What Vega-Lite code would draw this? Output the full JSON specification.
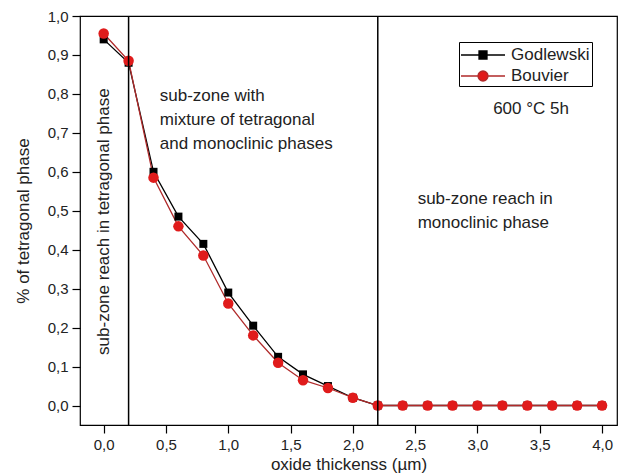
{
  "$schema": "https://vega.github.io/schema/vega-lite/v6.json",
  "autosize": "none",
  "width": 537,
  "height": 409,
  "padding": {"left": 80, "top": 16, "right": 1, "bottom": 51},
  "background": "white",
  "config": {
    "view": {"stroke": "black", "strokeWidth": 1.2},
    "font": "Liberation Sans",
    "axis": {"grid": false, "domain": false, "tickColor": "black", "labelColor": "#222", "titleColor": "#222", "labelFont": "Liberation Sans", "titleFont": "Liberation Sans", "titleFontWeight": "normal"}
  },
  "datasets": {
    "pts": [
      {"series": "Godlewski", "x": 0.0, "y": 0.94},
      {"series": "Godlewski", "x": 0.2, "y": 0.88},
      {"series": "Godlewski", "x": 0.4, "y": 0.60},
      {"series": "Godlewski", "x": 0.6, "y": 0.485},
      {"series": "Godlewski", "x": 0.8, "y": 0.415},
      {"series": "Godlewski", "x": 1.0, "y": 0.29},
      {"series": "Godlewski", "x": 1.2, "y": 0.205},
      {"series": "Godlewski", "x": 1.4, "y": 0.125},
      {"series": "Godlewski", "x": 1.6, "y": 0.08},
      {"series": "Godlewski", "x": 1.8, "y": 0.05},
      {"series": "Godlewski", "x": 2.0, "y": 0.02},
      {"series": "Godlewski", "x": 2.2, "y": 0.0},
      {"series": "Godlewski", "x": 2.4, "y": 0.0},
      {"series": "Godlewski", "x": 2.6, "y": 0.0},
      {"series": "Godlewski", "x": 2.8, "y": 0.0},
      {"series": "Godlewski", "x": 3.0, "y": 0.0},
      {"series": "Godlewski", "x": 3.2, "y": 0.0},
      {"series": "Godlewski", "x": 3.4, "y": 0.0},
      {"series": "Godlewski", "x": 3.6, "y": 0.0},
      {"series": "Godlewski", "x": 3.8, "y": 0.0},
      {"series": "Godlewski", "x": 4.0, "y": 0.0},
      {"series": "Bouvier", "x": 0.0, "y": 0.955},
      {"series": "Bouvier", "x": 0.2, "y": 0.885},
      {"series": "Bouvier", "x": 0.4, "y": 0.585},
      {"series": "Bouvier", "x": 0.6, "y": 0.46},
      {"series": "Bouvier", "x": 0.8, "y": 0.385},
      {"series": "Bouvier", "x": 1.0, "y": 0.262},
      {"series": "Bouvier", "x": 1.2, "y": 0.18},
      {"series": "Bouvier", "x": 1.4, "y": 0.11},
      {"series": "Bouvier", "x": 1.6, "y": 0.065},
      {"series": "Bouvier", "x": 1.8, "y": 0.045},
      {"series": "Bouvier", "x": 2.0, "y": 0.02},
      {"series": "Bouvier", "x": 2.2, "y": 0.0},
      {"series": "Bouvier", "x": 2.4, "y": 0.0},
      {"series": "Bouvier", "x": 2.6, "y": 0.0},
      {"series": "Bouvier", "x": 2.8, "y": 0.0},
      {"series": "Bouvier", "x": 3.0, "y": 0.0},
      {"series": "Bouvier", "x": 3.2, "y": 0.0},
      {"series": "Bouvier", "x": 3.4, "y": 0.0},
      {"series": "Bouvier", "x": 3.6, "y": 0.0},
      {"series": "Bouvier", "x": 3.8, "y": 0.0},
      {"series": "Bouvier", "x": 4.0, "y": 0.0}
    ],
    "zones": [
      {"boundary": 0.2},
      {"boundary": 2.2}
    ],
    "notes": [
      {"note": "tetra"},
      {"note": "mix"},
      {"note": "mono"},
      {"note": "cond"}
    ]
  },
  "layer": [
    {
      "data": {"name": "pts"},
      "transform": [{"filter": "datum.series === 'Godlewski'"}],
      "mark": {"type": "line", "strokeWidth": 1.3, "color": "black"},
      "encoding": {
        "x": {
          "field": "x", "type": "quantitative",
          "scale": {"domain": [-0.19, 4.12], "nice": false, "zero": false},
          "axis": {
            "title": "oxide thickenss (µm)",
            "titleFontSize": 17, "titlePadding": 4,
            "values": [0, 0.25, 0.5, 0.75, 1, 1.25, 1.5, 1.75, 2, 2.25, 2.5, 2.75, 3, 3.25, 3.5, 3.75, 4],
            "labelExpr": "abs(datum.value*2 - round(datum.value*2)) < 0.001 ? replace(format(datum.value, '.1f'), '.', ',') : ''",
            "labelFontSize": 15, "labelPadding": 4, "labelFlush": false,
            "tickSize": {"condition": {"test": "abs(datum.value*2 - round(datum.value*2)) < 0.001", "value": 8}, "value": 4},
            "tickWidth": 1.2
          }
        },
        "y": {
          "field": "y", "type": "quantitative",
          "scale": {"domain": [-0.05, 1.0], "nice": false, "zero": false},
          "axis": {
            "title": "% of tetragonal phase",
            "titleFontSize": 17, "titlePadding": 15,
            "values": [0, 0.05, 0.1, 0.15, 0.2, 0.25, 0.3, 0.35, 0.4, 0.45, 0.5, 0.55, 0.6, 0.65, 0.7, 0.75, 0.8, 0.85, 0.9, 0.95, 1.0],
            "labelExpr": "abs(datum.value*10 - round(datum.value*10)) < 0.001 ? replace(format(datum.value, '.1f'), '.', ',') : ''",
            "labelFontSize": 15, "labelPadding": 4, "labelFlush": false,
            "tickSize": {"condition": {"test": "abs(datum.value*10 - round(datum.value*10)) < 0.001", "value": 8}, "value": 4},
            "tickWidth": 1.2
          }
        }
      }
    },
    {
      "data": {"name": "pts"},
      "transform": [{"filter": "datum.series === 'Bouvier'"}],
      "mark": {"type": "line", "strokeWidth": 1.3, "color": "#b02a2a"},
      "encoding": {
        "x": {"field": "x", "type": "quantitative"},
        "y": {"field": "y", "type": "quantitative"}
      }
    },
    {
      "data": {"name": "pts"},
      "transform": [{"filter": "datum.series === 'Godlewski'"}],
      "mark": {"type": "point", "filled": true, "opacity": 1, "shape": "square", "size": 64},
      "encoding": {
        "x": {"field": "x", "type": "quantitative"},
        "y": {"field": "y", "type": "quantitative"},
        "color": {"field": "series", "type": "nominal", "scale": {"domain": ["Godlewski", "Bouvier"], "range": ["black", "#e01b1b"]}}
      }
    },
    {
      "data": {"name": "pts"},
      "transform": [{"filter": "datum.series === 'Bouvier'"}],
      "mark": {"type": "point", "filled": true, "opacity": 1, "shape": "circle", "size": 110},
      "encoding": {
        "x": {"field": "x", "type": "quantitative"},
        "y": {"field": "y", "type": "quantitative"},
        "color": {"field": "series", "type": "nominal"}
      }
    },
    {
      "data": {"name": "pts"},
      "transform": [{"filter": "datum.x === 0"}],
      "mark": {"type": "point", "filled": true, "opacity": 1, "clip": true, "strokeWidth": 1.3},
      "encoding": {
        "x": {"datum": 10},
        "y": {"field": "y", "type": "quantitative"},
        "color": {
          "field": "series", "type": "nominal",
          "legend": {
            "title": null, "orient": "none", "legendX": 379, "legendY": 26,
            "direction": "vertical",
            "strokeColor": "black", "padding": 2, "rowPadding": 2,
            "labelFontSize": 17, "labelColor": "#222", "labelFont": "Liberation Sans",
            "symbolSize": 400, "symbolOffset": 11, "labelOffset": 17, "symbolStrokeWidth": 1.3
          }
        },
        "stroke": {"field": "series", "type": "nominal", "scale": {"domain": ["Godlewski", "Bouvier"], "range": ["black", "#b02a2a"]}},
        "shape": {
          "field": "series", "type": "nominal",
          "scale": {"domain": ["Godlewski", "Bouvier"], "range": ["M-2.2,0H-0.4M0.4,0H2.2M-0.4,-0.4H0.4V0.4H-0.4Z", "M-2.2,0H-0.5M0.5,0H2.2M0.5,0A0.5,0.5,0,1,1,-0.5,0A0.5,0.5,0,1,1,0.5,0Z"]}
        }
      }
    },
    {
      "data": {"name": "zones"},
      "mark": {"type": "rule", "color": "black", "strokeWidth": 1.5},
      "encoding": {"x": {"field": "boundary", "type": "quantitative"}}
    },
    {
      "data": {"name": "notes"},
      "transform": [{"filter": "datum.note === 'tetra'"}],
      "mark": {"type": "text", "text": "sub-zone reach in tetragonal phase", "angle": 270, "align": "center", "baseline": "middle", "fontSize": 17, "color": "#222"},
      "encoding": {"x": {"datum": 0.0}, "y": {"datum": 0.472}}
    },
    {
      "data": {"name": "notes"},
      "transform": [{"filter": "datum.note === 'mix'"}],
      "mark": {"type": "text", "text": ["sub-zone with", "mixture of tetragonal", "and monoclinic phases"], "align": "left", "baseline": "alphabetic", "lineHeight": 24, "fontSize": 17, "color": "#222"},
      "encoding": {"x": {"datum": 0.45}, "y": {"datum": 0.782}}
    },
    {
      "data": {"name": "notes"},
      "transform": [{"filter": "datum.note === 'mono'"}],
      "mark": {"type": "text", "text": ["sub-zone reach in", "monoclinic phase"], "align": "left", "baseline": "alphabetic", "lineHeight": 24, "fontSize": 17, "color": "#222"},
      "encoding": {"x": {"datum": 2.52}, "y": {"datum": 0.517}}
    },
    {
      "data": {"name": "notes"},
      "transform": [{"filter": "datum.note === 'cond'"}],
      "mark": {"type": "text", "text": "600 °C 5h", "align": "center", "baseline": "alphabetic", "fontSize": 17, "color": "#222"},
      "encoding": {"x": {"datum": 3.43}, "y": {"datum": 0.748}}
    }
  ]
}
